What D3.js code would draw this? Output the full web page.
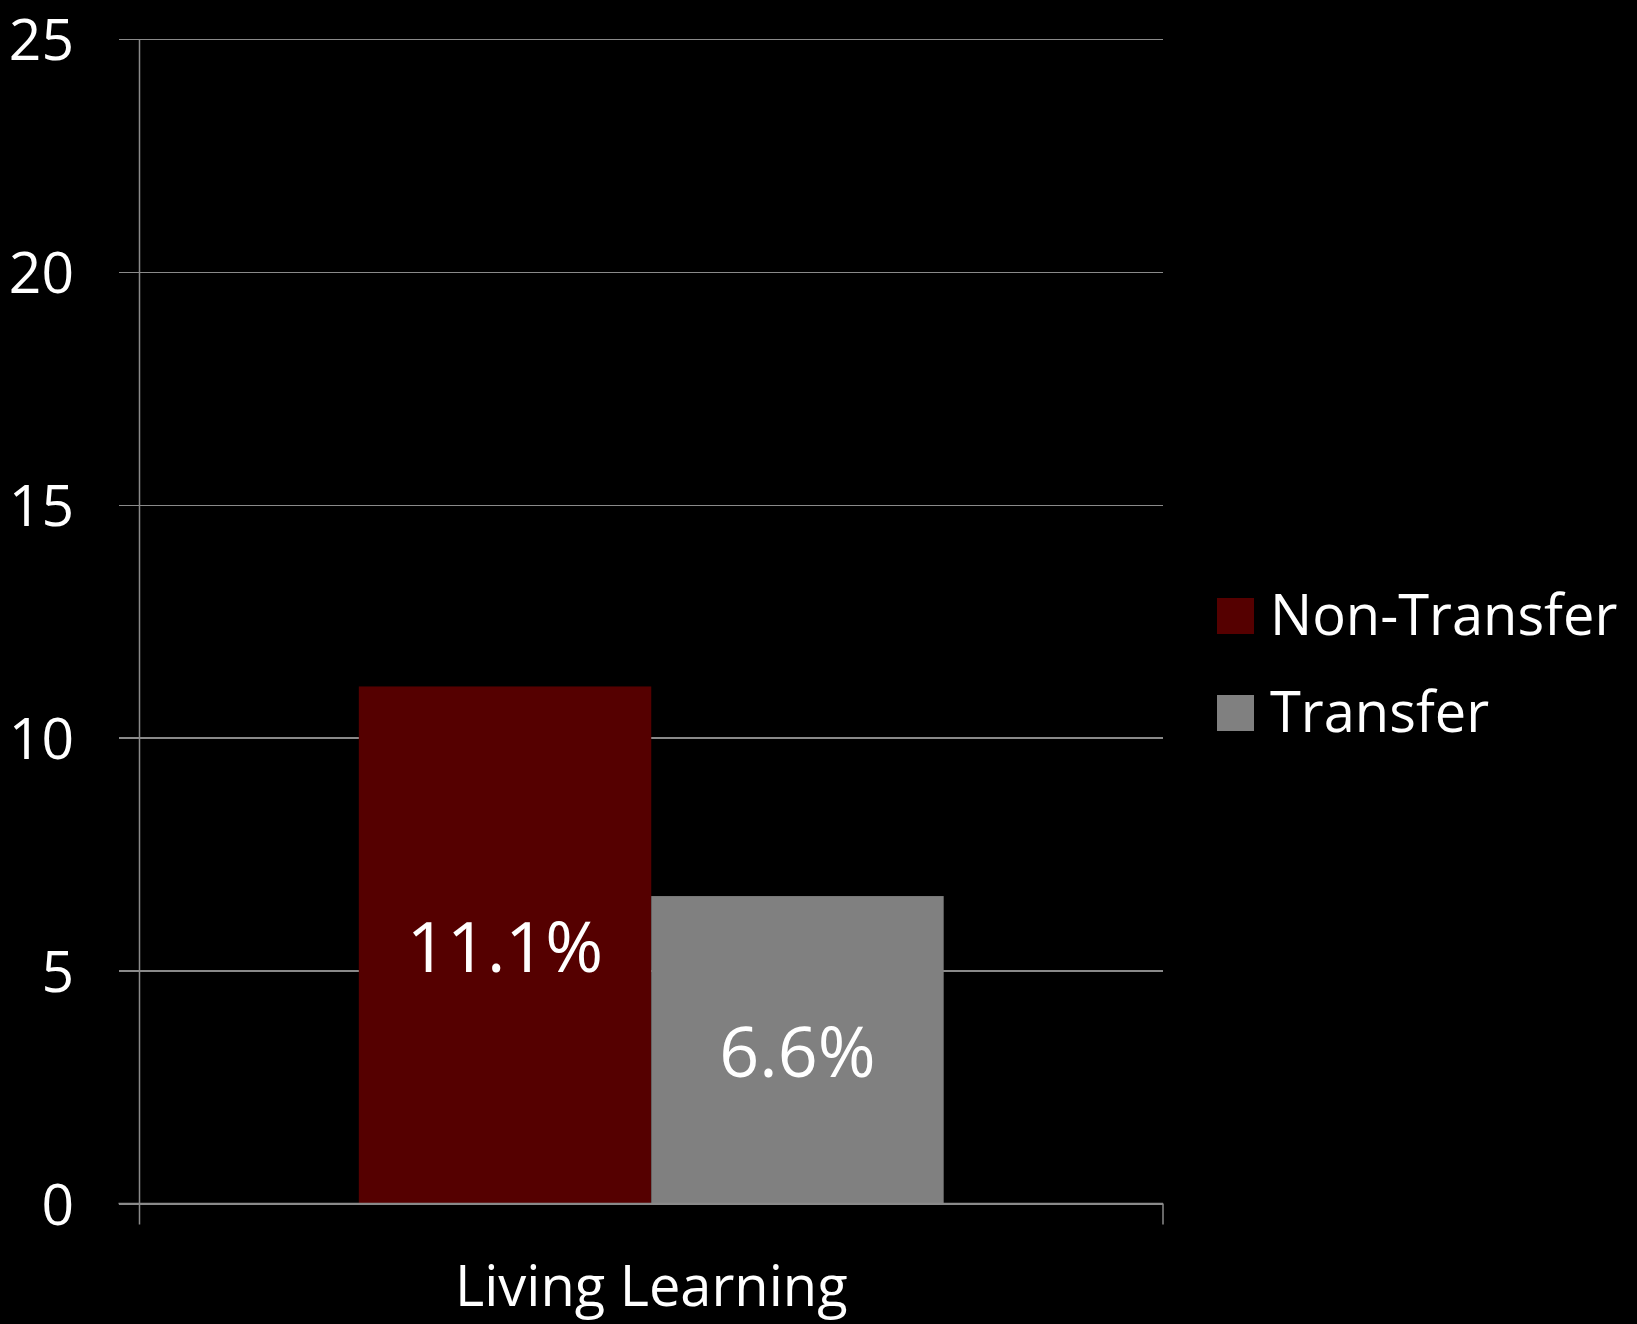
<!DOCTYPE html>
<html>
<head>
<meta charset="utf-8">
<script src="https://cdn.jsdelivr.net/npm/d3@7"></script>
<style>
  html, body { margin: 0; padding: 0; background: #000; }
  svg { display: block; }
  text { font-family: "Open Sans", sans-serif; fill: #fff; }
</style>
</head>
<body>
<svg id="chart" width="1637" height="1324"></svg>
<script>
// Chart data
const categories = ["Living Learning"];
const seriesNames = ["Non-Transfer", "Transfer"];
const seriesColors = ["#550000", "#808080"];
const nonTransfer = [11.1];
const transfer = [6.6];
const yTicks = [0, 5, 10, 15, 20, 25];

const svg = d3.select("#chart");
const plot = { left: 139.5, right: 1163, top: 39, bottom: 1203.5 };
const gridColor = "#8a8a8a";

const x = d3.scaleBand().domain(categories).range([plot.left, plot.right]).paddingInner(0).paddingOuter(0);
const y = d3.scaleLinear().domain([0, 25]).range([plot.bottom, plot.top]);
const xSeries = d3.scaleBand().domain(seriesNames)
  .range([0, x.bandwidth()]).paddingOuter(0.75).paddingInner(0);

// Horizontal gridlines with left tick marks
const yAxis = d3.axisLeft(y).tickValues(yTicks).tickSize(-(plot.right - plot.left)).tickFormat("");
const gy = svg.append("g").attr("transform", `translate(${plot.left},0)`).call(yAxis);
gy.select(".domain").remove();
gy.selectAll(".tick line")
  .attr("x1", -21)
  .attr("stroke", gridColor).attr("stroke-width", 1.5)
  .attr("shape-rendering", "crispEdges");

// Tick labels
svg.append("g").selectAll("text").data(yTicks).join("text")
  .attr("x", 74).attr("y", d => y(d) + 21)
  .attr("text-anchor", "end")
  .attr("font-size", 57)
  .text(d => d);

// Vertical axis line and category boundary tick
svg.append("line")
  .attr("x1", plot.left).attr("x2", plot.left)
  .attr("y1", plot.top).attr("y2", plot.bottom + 21)
  .attr("stroke", gridColor).attr("stroke-width", 1.5);
svg.append("line")
  .attr("x1", plot.right).attr("x2", plot.right)
  .attr("y1", plot.bottom).attr("y2", plot.bottom + 21)
  .attr("stroke", gridColor).attr("stroke-width", 1.5);

// Bars
const rows = categories.map((c, i) => ({
  category: c,
  values: [
    { series: seriesNames[0], value: nonTransfer[i], color: seriesColors[0] },
    { series: seriesNames[1], value: transfer[i], color: seriesColors[1] }
  ]
}));

const groups = svg.append("g").selectAll("g").data(rows).join("g")
  .attr("transform", d => `translate(${x(d.category)},0)`);

groups.selectAll("rect").data(d => d.values).join("rect")
  .attr("x", d => xSeries(d.series))
  .attr("width", xSeries.bandwidth())
  .attr("y", d => y(d.value))
  .attr("height", d => y(0) - y(d.value))
  .attr("fill", d => d.color);

// Redraw baseline on top of bars
svg.append("line")
  .attr("x1", plot.left - 21).attr("x2", plot.right)
  .attr("y1", y(0)).attr("y2", y(0))
  .attr("stroke", gridColor).attr("stroke-width", 1.5);

// Value labels centred in bars
groups.selectAll("text.val").data(d => d.values).join("text")
  .attr("class", "val")
  .attr("x", d => xSeries(d.series) + xSeries.bandwidth() / 2)
  .attr("y", d => (y(d.value) + y(0)) / 2 + 27)
  .attr("text-anchor", "middle")
  .attr("font-size", 70)
  .text(d => d.value.toFixed(1) + "%");

// Category label
svg.append("g").selectAll("text").data(categories).join("text")
  .attr("x", d => x(d) + x.bandwidth() / 2)
  .attr("y", 1306)
  .attr("text-anchor", "middle")
  .attr("font-size", 56)
  .text(d => d);

// Legend
const legend = svg.append("g").attr("transform", "translate(1217,598)");
const items = legend.selectAll("g").data(seriesNames).join("g")
  .attr("transform", (d, i) => `translate(0,${i * 97})`);
items.append("rect").attr("width", 37).attr("height", 36)
  .attr("fill", (d, i) => seriesColors[i]);
items.append("text").attr("x", 53).attr("y", 37)
  .attr("font-size", 56)
  .text(d => d);
</script>
</body>
</html>
